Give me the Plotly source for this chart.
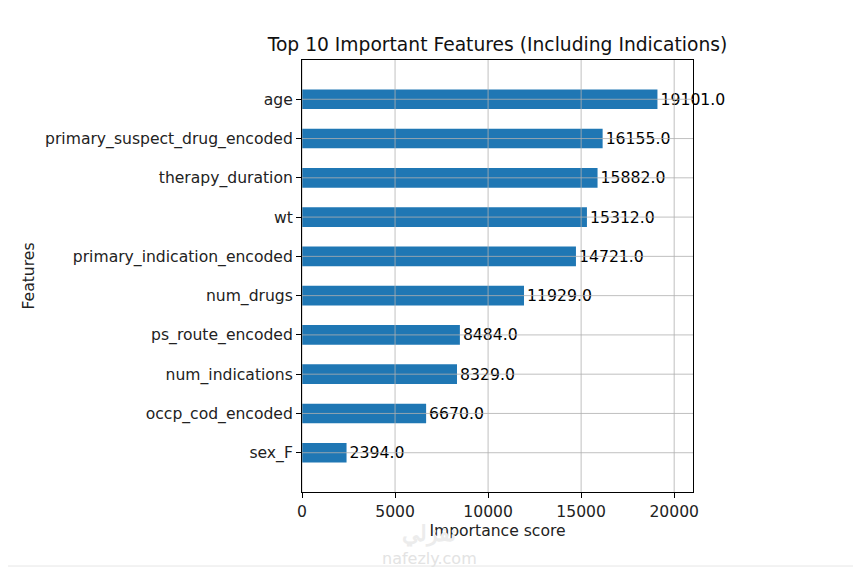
import plotly.graph_objects as go

# feature importance (xgboost plot_importance style), bottom -> top
features = [
    "sex_F",
    "occp_cod_encoded",
    "num_indications",
    "ps_route_encoded",
    "num_drugs",
    "primary_indication_encoded",
    "wt",
    "therapy_duration",
    "primary_suspect_drug_encoded",
    "age",
]
scores = [2394.0, 6670.0, 8329.0, 8484.0, 11929.0, 14721.0, 15312.0, 15882.0, 16155.0, 19101.0]
x_ticks = [0, 5000, 10000, 15000, 20000]

positions = list(range(len(features)))
x_max = max(scores) * 1.1

# the page puts the figure a few pixels in from the corner
OFF = 7
W, H = 861, 567
L, R, T, B = 301 - OFF, 861 - 692 + OFF, 59 - OFF, 567 - 491 + OFF
PW, PH = W - L - R, H - T - B

fig = go.Figure()

fig.add_trace(go.Bar(
    x=scores,
    y=positions,
    orientation="h",
    width=0.5,
    marker=dict(color="#1f77b4", line=dict(width=0)),
    text=[f"{v:.1f}" for v in scores],
    textposition="outside",
    textfont=dict(color="#000000", size=15.7, family="DejaVu Sans"),
    cliponaxis=False,
    showlegend=False,
))

# matplotlib draws the grid on top of the bars
grid = dict(color="#b0b0b0", width=0.8)
shapes = []
for t in x_ticks:
    shapes.append(dict(type="line", xref="x", yref="y domain", x0=t, x1=t, y0=0, y1=1,
                       line=grid, layer="above"))
for p in positions:
    shapes.append(dict(type="line", xref="x domain", yref="y", x0=0, x1=1, y0=p, y1=p,
                       line=grid, layer="above"))

# page border line at the bottom of the screenshot
yb = -(565 - 491) / PH
shapes.append(dict(type="line", xref="paper", yref="paper",
                   x0=-L / PW - 0.1, x1=(W - L) / PW + 0.1, y0=yb, y1=yb,
                   line=dict(color="#e6e6e6", width=1)))

fig.update_layout(
    width=W,
    height=H,
    margin=dict(l=L, r=R, t=T, b=B),
    paper_bgcolor="white",
    plot_bgcolor="white",
    font=dict(family="DejaVu Sans", size=15.6, color="#222222"),
    title=dict(
        text="Top 10 Important Features (Including Indications)",
        x=(L + PW / 2) / W,
        xanchor="center",
        y=1 - (43 - OFF) / H,
        yanchor="middle",
        font=dict(size=18.7, color="#111111"),
    ),
    xaxis=dict(
        range=[0, x_max],
        tickvals=x_ticks,
        ticktext=[str(t) for t in x_ticks],
        showgrid=False,
        zeroline=False,
        showline=True,
        mirror=True,
        linecolor="black",
        linewidth=1,
        ticks="outside",
        ticklen=5,
        tickcolor="black",
        title=dict(text="Importance score", standoff=5, font=dict(size=15.6)),
    ),
    yaxis=dict(
        range=[-1, len(features)],
        tickvals=positions,
        ticktext=features,
        showgrid=False,
        zeroline=False,
        showline=True,
        mirror=True,
        linecolor="black",
        linewidth=1,
        ticks="outside",
        ticklen=5,
        tickcolor="black",
        title=dict(text="Features", standoff=6, font=dict(size=15.6)),
    ),
    shapes=shapes,
    annotations=[
        dict(text="<b>نفزلي</b>", xref="paper", yref="paper",
             x=(428 - 301) / PW, y=-(531 - 491) / PH,
             xanchor="center", yanchor="middle",
             showarrow=False, font=dict(size=22, color="#ececec", family="Noto Sans")),
        dict(text="nafezly.com", xref="paper", yref="paper",
             x=(428 - 301) / PW, y=-(557 - 491) / PH,
             xanchor="center", yanchor="middle",
             showarrow=False, font=dict(size=16, color="#e3e3e3", family="DejaVu Sans")),
    ],
)

fig.write_html("out.html")
